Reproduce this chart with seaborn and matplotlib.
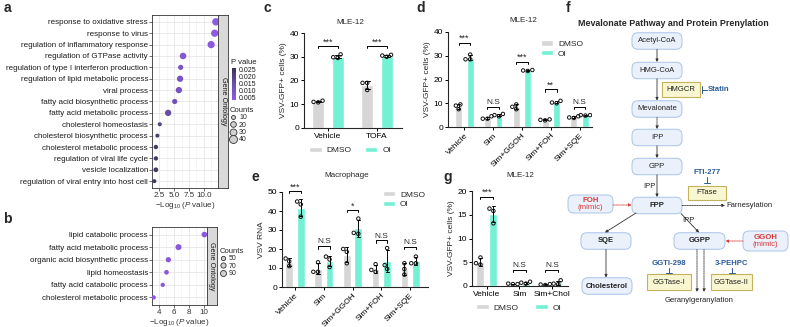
import numpy as np
import pandas as pd
import matplotlib
matplotlib.use("Agg")
import matplotlib.pyplot as plt
import seaborn as sns
from matplotlib.patches import FancyBboxPatch, Rectangle
from matplotlib.lines import Line2D
from matplotlib.colors import LinearSegmentedColormap, Normalize
from matplotlib.cm import ScalarMappable

# ---------------- data ----------------
terms_a = ["response to oxidative stress", "response to virus",
           "regulation of inflammatory response", "regulation of GTPase activity",
           "regulation of type I interferon production", "regulation of lipid metabolic process",
           "viral process", "fatty acid biosynthetic process", "fatty acid metabolic process",
           "cholesterol homeostasis", "cholesterol biosynthetic process",
           "cholesterol metabolic process", "regulation of viral life cycle",
           "vesicle localization", "regulation of viral entry into host cell"]
logp_a = [12.0, 11.8, 11.2, 6.5, 6.1, 6.0, 5.8, 5.1, 4.0, 2.6, 2.2, 1.95, 1.95, 1.95, 1.7]
count_a = [35, 33, 33, 27, 17, 25, 25, 17, 25, 10, 7, 12, 12, 14, 5]
pval_a = [0.003, 0.003, 0.004, 0.007, 0.009, 0.010, 0.011, 0.013, 0.016, 0.021, 0.022, 0.024, 0.024, 0.024, 0.025]

terms_b = ["lipid catabolic process", "fatty acid metabolic process",
           "organic acid biosynthetic process", "lipid homeostasis",
           "fatty acid catabolic process", "cholesterol metabolic process"]
logp_b = [10.05, 6.6, 5.25, 5.0, 4.5, 3.3]
count_b = [80, 100, 72, 58, 25, 48]

groups_c = ["Vehicle", "TOFA"]
dmso_c = [[11.5, 11.0, 10.8], [19.0, 19.0, 16.0]]
oi_c = [[31.0, 29.5, 29.8], [30.8, 30.5, 30.0]]
sig_c = ["***", "***"]
sigy_c = [34.5, 34.5]

groups_d = ["Vehicle", "Sim", "Sim+GGOH", "Sim+FOH", "Sim+SQE"]
dmso_d = [[9.5, 9.0, 7.5], [4.5, 3.5, 3.5], [9.5, 8.5, 7.5], [3.2, 3.0, 2.8], [4.5, 4.0, 3.8]]
oi_d = [[30.5, 28.5, 28.5], [5.5, 5.0, 4.5], [24.0, 23.8, 23.6], [11.0, 10.3, 10.0], [5.0, 5.0, 4.8]]
sig_d = ["***", "N.S", "***", "**", "N.S"]
sigy_d = [35.5, 8.5, 27.5, 15.8, 8.5]

groups_e = ["Vehicle", "Sim", "Sim+GGOH", "Sim+FOH", "Sim+SQE"]
dmso_e = [[15.0, 13.5, 11.0], [13.0, 8.0, 8.0], [20.0, 18.5, 12.5], [12.0, 9.0, 8.0], [12.5, 9.5, 6.5]]
oi_e = [[45.0, 43.5, 37.0], [16.0, 14.5, 10.5], [36.0, 28.5, 28.0], [20.5, 11.5, 9.5], [16.0, 12.5, 12.5]]
sig_e = ["***", "N.S", "*", "N.S", "N.S"]
sigy_e = [50.5, 21.5, 40.5, 24.5, 21.0]

groups_g = ["Vehicle", "Sim", "Sim+Chol"]
dmso_g = [[6.0, 4.8, 4.5], [0.5, 0.4, 0.4], [0.4, 0.3, 0.2]]
oi_g = [[16.3, 15.8, 13.2], [0.9, 0.7, 0.5], [1.2, 0.5, 0.4]]
sig_g = ["***", "N.S", "N.S"]
sigy_g = [18.8, 3.4, 3.4]

hue_levels = ["DMSO", "OI"]

# ---------------- style ----------------
sns.set_theme(style="ticks")
plt.rcParams["font.family"] = ["Liberation Sans", "DejaVu Sans"]
plt.rcParams["mathtext.fontset"] = "custom"
plt.rcParams["mathtext.rm"] = "Liberation Sans"
plt.rcParams["mathtext.it"] = "Liberation Sans:italic"
plt.rcParams["axes.linewidth"] = 0.8

PAL = {"DMSO": "#d6d6d6", "OI": "#74f0d4"}
GRAYTXT = "#333333"

W, H = 790, 327
fig = plt.figure(figsize=(7.9, 3.27), dpi=100)


def axpx(l, t, r, b):
    return fig.add_axes([l / W, 1 - b / H, (r - l) / W, (b - t) / H])


def ftext(x, y, s, **kw):
    fig.text(x / W, 1 - y / H, s, **kw)


# ---------------- panel a & b (GO dot plots) ----------------
cmap_p = LinearSegmentedColormap.from_list("pv", ["#8d5be3", "#6a4fae", "#3d3350"])
norm_p = Normalize(0.0033, 0.0264)


def go_panel(ax, sax, terms, logp, counts, colors, xlim, xticks, xticklabels, minor, sizes, size_norm):
    df = pd.DataFrame({"term": terms, "logp": logp, "count": counts})
    ax.set_axisbelow(True)
    for m in minor:
        ax.axvline(m, color="#f0f0f0", lw=0.4, zorder=0)
    for t in xticks:
        ax.axvline(t, color="#e6e6e6", lw=0.6, zorder=0)
    for i in range(len(terms)):
        ax.axhline(i, color="#e6e6e6", lw=0.6, zorder=0)
    sns.scatterplot(data=df, x="logp", y="term", size="count", sizes=sizes, size_norm=size_norm,
                    c=colors, linewidth=0, legend=False, ax=ax, zorder=3)
    n = len(terms)
    ax.set_ylim(n - 0.4, -0.6)
    ax.set_xlim(*xlim)
    ax.set_xticks(xticks)
    ax.set_xticklabels(xticklabels)
    ax.set_xlabel(r"$-$Log$_{10}$ ($\it{P}$ value)", fontsize=5.8, labelpad=0.5, color=GRAYTXT)
    ax.set_ylabel("")
    ax.tick_params(axis="both", length=2, width=0.5, pad=0.8, colors="#333333", labelsize=5.8)
    ax.tick_params(axis="y", labelsize=5.75, labelcolor="#1a1a1a")
    for s in ax.spines.values():
        s.set_color("#333333")
        s.set_linewidth(0.6)
    sax.set_facecolor("#d9d9d9")
    sax.set_xticks([])
    sax.set_yticks([])
    for s in sax.spines.values():
        s.set_color("#333333")
        s.set_linewidth(0.6)
    sax.text(0.5, 0.5, "Gene Ontology", rotation=-90, ha="center", va="center",
             fontsize=5.2, color="#1a1a1a", transform=sax.transAxes)


ax_a = axpx(152, 15, 218, 188)
sax_a = axpx(218, 15, 228, 188)
cols_a = [cmap_p(norm_p(p)) for p in pval_a]
go_panel(ax_a, sax_a, terms_a, logp_a, count_a, cols_a, (1.3, 12.35), [2.5, 5.0, 7.5, 10.0],
         ["2.5", "5.0", "7.5", "10.0"], [3.75, 6.25, 8.75, 11.25], (8.3, 33), (10, 40))

ax_b = axpx(152, 227, 207, 305)
sax_b = axpx(207, 227, 217, 305)
cols_b = ["#8a58dc"] * len(terms_b)
go_panel(ax_b, sax_b, terms_b, logp_b, count_b, cols_b, (3.07, 10.4), [4, 6, 8, 10],
         ["4", "6", "8", "10"], [5, 7, 9], (9.6, 18.7), (50, 90))

# legend for a: P value colorbar
ftext(231, 62, "P value", fontsize=5.5, va="center", ha="left", color="#1a1a1a")
cax = axpx(231.5, 68, 236, 100)
cb = fig.colorbar(ScalarMappable(norm=norm_p, cmap=cmap_p), cax=cax)
cb.outline.set_visible(False)
cb.set_ticks([0.005, 0.010, 0.015, 0.020, 0.025])
cb.set_ticklabels(["0.005", "0.010", "0.015", "0.020", "0.025"])
cax.tick_params(length=1.2, width=0.4, color="white", labelsize=5, pad=1, labelcolor="#1a1a1a")


def size_legend(x, y, title, values, sizes, size_norm):
    lo, hi = sizes
    a, b = size_norm
    handles = []
    for v in values:
        s = lo + (v - a) / (b - a) * (hi - lo)
        handles.append(Line2D([], [], marker="o", ls="", markersize=np.sqrt(s),
                              mfc="#d0d0d0", mec="#333333", mew=0.6))
    leg = fig.legend(handles, [str(v) for v in values], title=title, loc="upper left",
                     bbox_to_anchor=(x / W, 1 - y / H), frameon=False, fontsize=5,
                     title_fontsize=5.5, handletextpad=0.3, labelspacing=0.05,
                     borderpad=0, borderaxespad=0, handlelength=1.0)
    leg._legend_box.align = "left"


size_legend(230, 107, "Counts", [10, 20, 30, 40], (8.3, 33), (10, 40))
size_legend(220, 248, "Counts", [50, 70, 90], (9.6, 18.7), (50, 90))


# ---------------- bar panels ----------------
def bar_panel(ax, groups, dmso, oi, ylim, yticks, xlim, gap, rot, sig, sigy, ylabel, legend_mode):
    rows = []
    for g, dv, ov in zip(groups, dmso, oi):
        for v in dv:
            rows.append((g, "DMSO", v))
        for v in ov:
            rows.append((g, "OI", v))
    df = pd.DataFrame(rows, columns=["group", "trt", "value"])
    sns.barplot(data=df, x="group", y="value", hue="trt", order=groups, hue_order=hue_levels,
                palette=PAL, width=0.8, gap=gap, errorbar="sd", capsize=0.22, saturation=1,
                err_kws={"linewidth": 0.7, "color": "black"}, ax=ax)
    sns.swarmplot(data=df, x="group", y="value", hue="trt", order=groups, hue_order=hue_levels,
                  dodge=True, palette=PAL, size=2.5, linewidth=0.7, edgecolor="black",
                  legend=False, ax=ax)
    for c in ax.collections:
        c.set_facecolor("none")
        c.set_edgecolor("#111111")
    ax.set_ylim(*ylim)
    ax.set_yticks(yticks)
    ax.set_xlim(*xlim)
    ax.set_xlabel("")
    ax.set_ylabel(ylabel, fontsize=6, labelpad=2)
    sns.despine(ax=ax)
    ax.tick_params(axis="both", length=2.5, width=0.7, pad=1, labelsize=6, colors="black")
    if rot:
        for lab in ax.get_xticklabels():
            lab.set_rotation(45)
            lab.set_ha("right")
            lab.set_rotation_mode("anchor")
    span = ylim[1] - ylim[0]
    d = span * 0.025
    for i, (s, h) in enumerate(zip(sig, sigy)):
        ax.plot([i - 0.2, i - 0.2, i + 0.2, i + 0.2], [h - d, h, h, h - d], color="black",
                lw=0.7, clip_on=False)
        if s == "N.S":
            ax.text(i, h + span * 0.01, s, ha="center", va="bottom", fontsize=6, clip_on=False)
        else:
            ax.text(i, h - span * 0.005, s, ha="center", va="bottom", fontsize=6.5, clip_on=False)
    if legend_mode[0] == "below":
        sns.move_legend(ax, "upper center", bbox_to_anchor=(legend_mode[1], legend_mode[2]),
                        ncol=2, frameon=False, title=None, fontsize=6, handlelength=1.5,
                        handleheight=0.6, columnspacing=legend_mode[3], handletextpad=0.6)
    else:
        sns.move_legend(ax, "upper right", bbox_to_anchor=legend_mode[1:], ncol=1, frameon=False,
                        title=None, fontsize=6, handlelength=1.4, handleheight=0.6,
                        labelspacing=0.25, handletextpad=0.6)


ax_c = axpx(304, 33, 402, 128)
bar_panel(ax_c, groups_c, dmso_c, oi_c, (0, 40), [0, 10, 20, 30, 40], (-0.49, 1.51), 0.39,
          False, sig_c, sigy_c, "VSV-GFP+ cells (%)", ("below", 0.47, -0.12, 1.6))

ax_d = axpx(448, 32, 592, 127)
bar_panel(ax_d, groups_d, dmso_d, oi_d, (0, 40), [0, 10, 20, 30, 40], (-0.57, 4.43), 0.4,
          True, sig_d, sigy_d, "VSV-GFP+ cells (%)", ("in", 0.99, 0.99))

ax_e = axpx(282, 192, 428, 287)
bar_panel(ax_e, groups_e, dmso_e, oi_e, (0, 50), [0, 10, 20, 30, 40, 50], (-0.45, 4.62), 0.33,
          True, sig_e, sigy_e, "VSV RNA", ("in", 1.03, 1.09))

ax_g = axpx(472, 191, 568, 286)
bar_panel(ax_g, groups_g, dmso_g, oi_g, (0, 20), [0, 5, 10, 15, 20], (-0.46, 2.5), 0.38,
          False, sig_g, sigy_g, "VSV-GFP+ cells (%)", ("below", 0.49, -0.11, 2.0))

ftext(350, 23, "MLE-12", fontsize=5.8, ha="center", va="center")
ftext(523, 20, "MLE-12", fontsize=5.8, ha="center", va="center")
ftext(347, 175, "Macrophage", fontsize=5.8, ha="center", va="center")
ftext(520, 175, "MLE-12", fontsize=5.8, ha="center", va="center")

# panel letters
for lx, ly, s in [(7, 8, "a"), (7, 219, "b"), (267, 8, "c"), (421, 8, "d"),
                  (255, 177, "e"), (568, 8, "f"), (448, 177, "g")]:
    ftext(lx, ly, s, fontsize=10, fontweight="bold", ha="center", va="center")

# ---------------- panel f (pathway diagram) ----------------
ax_f = axpx(560, 0, 790, 327)
ax_f.set_xlim(560, 790)
ax_f.set_ylim(327, 0)
ax_f.axis("off")

BLUE_FILL, BLUE_EDGE = "#eaf1fb", "#a9c4ea"
Y_FILL, Y_EDGE = "#f9f7d2", "#c4b35c"
INH = "#2c5a9a"
RED = "#d83a3a"

ax_f.text(673, 23, "Mevalonate Pathway and Protein Prenylation", fontsize=6.4,
          fontweight="bold", ha="center", va="center")

node_names = ["Acetyl-CoA", "HMG-CoA", "Mevalonate", "IPP", "GPP", "FPP", "SQE", "GGPP", "Cholesterol"]
node_bold = [False, False, False, False, False, True, True, True, True]
node_xy = [(657, 41), (657, 70.5), (657, 109), (657, 137.5), (657, 166.5), (657, 205.5),
           (606, 241), (699.5, 241), (607, 286)]
node_w = [50, 50, 50, 50, 50, 50, 50, 51, 50]
node_h = 16.5


def rbox(cx, cy, w, h, fc, ec, r=6):
    p = FancyBboxPatch((cx - w / 2, cy - h / 2), w, h,
                       boxstyle=f"round,pad=0,rounding_size={r}", fc=fc, ec=ec, lw=0.7)
    ax_f.add_patch(p)


for name, bold, (cx, cy), w in zip(node_names, node_bold, node_xy, node_w):
    rbox(cx, cy, w, node_h, BLUE_FILL, BLUE_EDGE)
    ax_f.text(cx, cy, name, fontsize=5.5, ha="center", va="center",
              fontweight="bold" if bold else "normal", color="#222222")

# mimic boxes
for (cx, cy, w, h), lab in [((590.5, 204, 45, 18), "FOH"), ((765.5, 241, 45, 20), "GGOH")]:
    rbox(cx, cy, w, h, BLUE_FILL, BLUE_EDGE)
    ax_f.text(cx, cy - 3.6, lab, fontsize=5.6, ha="center", va="center", color=RED, fontweight="bold")
    ax_f.text(cx, cy + 3.8, "(mimic)", fontsize=5.6, ha="center", va="center", color=RED)

# enzyme boxes
enz_names = ["HMGCR", "FTase", "GGTase-I", "GGTase-II"]
enz_xy = [(681, 89.5, 38, 15), (707, 193, 38, 14), (669, 282, 44, 16), (731.5, 282, 41, 16)]
for name, (cx, cy, w, h) in zip(enz_names, enz_xy):
    ax_f.add_patch(Rectangle((cx - w / 2, cy - h / 2), w, h, fc=Y_FILL, ec=Y_EDGE, lw=0.8))
    ax_f.text(cx, cy, name, fontsize=5.5, ha="center", va="center", color="#222222")


def arrow(p0, p1, color="#333333", dotted=False):
    ax_f.annotate("", xy=p1, xytext=p0,
                  arrowprops=dict(arrowstyle="-|>", lw=0.6, color=color, shrinkA=0, shrinkB=0,
                                  mutation_scale=4,
                                  linestyle=(0, (1, 1)) if dotted else "-"))


arrow((657, 49.3), (657, 62))
arrow((657, 78.8), (657, 100.5))
arrow((657, 117.3), (657, 129), dotted=True)
arrow((657, 145.8), (657, 158))
arrow((657, 174.8), (657, 197))
ax_f.text(649, 186, "IPP", fontsize=5.5, ha="center", va="center", color="#222222")
arrow((682, 205.5), (725, 205.5), dotted=True)
ax_f.text(726, 205.5, "Farnesylation", fontsize=5.5, ha="left", va="center", color="#222222")
arrow((636, 213), (605, 232.5))
arrow((681, 213.5), (699, 232.5))
ax_f.text(688, 221, "IPP", fontsize=5.5, ha="center", va="center", color="#222222")
arrow((613, 205), (631.5, 205), color=RED, dotted=True)
arrow((743, 241), (725.5, 241), color=RED, dotted=True)
arrow((606, 249.5), (606, 277.5))
arrow((697, 249.5), (697, 292), dotted=True)
arrow((704, 249.5), (704, 292), dotted=True)
ax_f.text(699, 300.5, "Geranylgeranylation", fontsize=5.5, ha="center", va="center", color="#222222")

# inhibitors
ax_f.plot([701.5, 701.5], [86, 93], color=INH, lw=0.7)
ax_f.plot([701.5, 707], [89.5, 89.5], color=INH, lw=0.7)
ax_f.text(708, 89.5, "Statin", fontsize=5.6, ha="left", va="center", color=INH, fontweight="bold")
for (cx, ty, lab) in [(707, 173, "FTI-277"), (669, 263.5, "GGTI-298"), (732, 263.5, "3-PEHPC")]:
    ax_f.text(cx, ty, lab, fontsize=5.6, ha="center", va="center", color=INH, fontweight="bold")
    ax_f.plot([cx, cx], [ty + 4, ty + 9.5], color=INH, lw=0.7)
    ax_f.plot([cx - 3, cx + 3], [ty + 9.5, ty + 9.5], color=INH, lw=0.7)

fig.savefig("out.png", dpi=100)
